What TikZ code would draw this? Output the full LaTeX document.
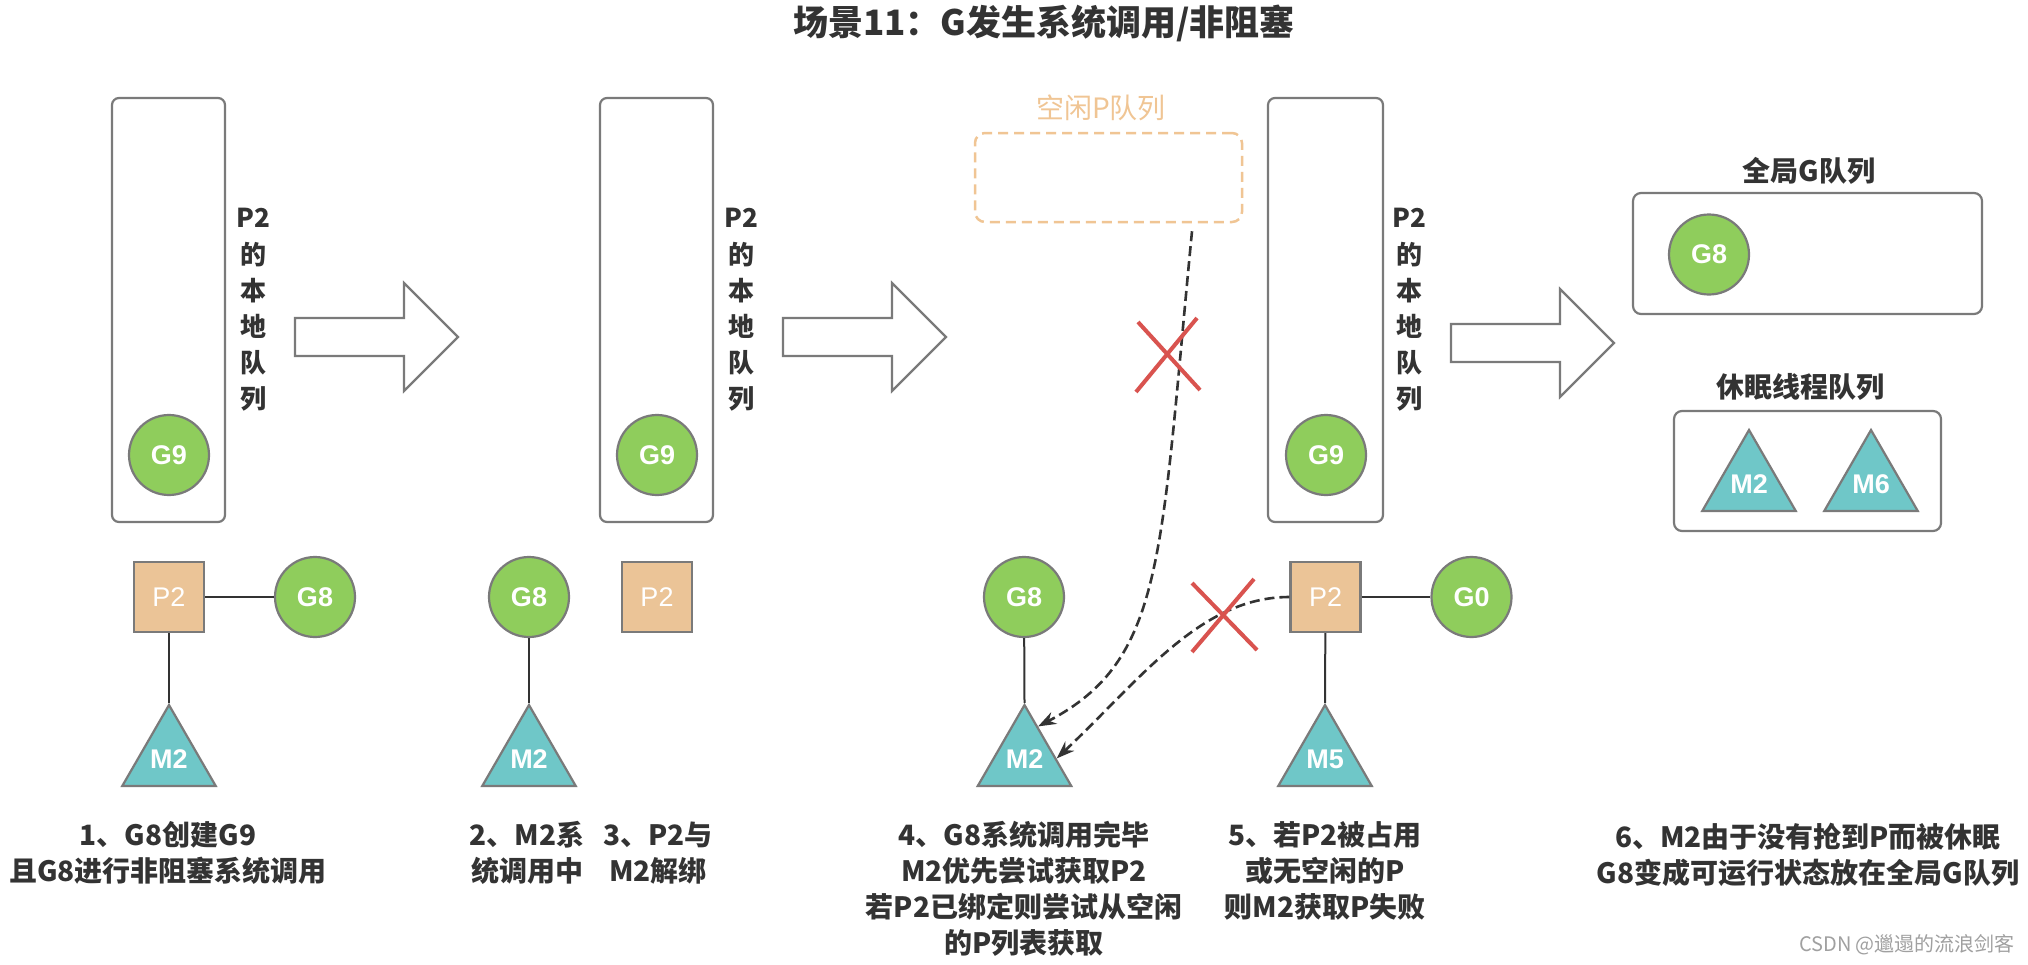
\documentclass[tikz,border=0pt]{standalone}
\usepackage{fontspec}
\setmainfont{Noto Sans CJK SC}
\newfontfamily\latinfont{Liberation Sans}
\usetikzlibrary{shapes.geometric,arrows.meta,calc}

\definecolor{gfill}{HTML}{8FCD5C}
\definecolor{pfill}{HTML}{EBC497}
\definecolor{mfill}{HTML}{6FC7C8}
\definecolor{edgegray}{HTML}{7A7A7A}
\definecolor{txt}{HTML}{333333}
\definecolor{xred}{HTML}{D9534F}
\definecolor{idle}{HTML}{F0C594}
\definecolor{wm}{HTML}{A0A0A0}

\tikzset{
  gnode/.style={circle, fill=gfill, draw=edgegray, line width=2.2pt, minimum size=80pt, inner sep=0pt, text=white, font=\latinfont\fontsize{27}{27}\selectfont\bfseries},
  pnode/.style={rectangle, fill=pfill, draw=edgegray, line width=2.2pt, minimum size=70pt, inner sep=0pt, text=white, font=\latinfont\fontsize{27}{27}\selectfont},
  mnode/.style={regular polygon, regular polygon sides=3, fill=mfill, draw=edgegray, line width=2.2pt, minimum size=108pt, inner sep=0pt, text=white, font=\latinfont\fontsize{27}{27}\selectfont\bfseries},
  localq/.style={rectangle, draw=edgegray, line width=2.2pt, rounded corners=7pt, minimum width=113pt, minimum height=424pt, inner sep=0pt},
  qbox/.style={rectangle, draw=edgegray, line width=2.2pt, rounded corners=8pt, inner sep=0pt},
  idlebox/.style={rectangle, draw=idle, line width=2.5pt, dash pattern=on 10pt off 6pt, rounded corners=10pt, minimum width=267pt, minimum height=89pt, inner sep=0pt},
  vtext/.style={align=center, text=txt, font=\fontsize{26}{36.2}\selectfont\bfseries, inner sep=0pt},
  caption/.style={align=center, text=txt, font=\fontsize{28}{36}\selectfont\bfseries, inner sep=0pt},
  qlabel/.style={text=txt, font=\fontsize{28}{28}\selectfont\bfseries, inner sep=0pt},
  conn/.style={draw=txt, line width=2pt},
  dashconn/.style={draw=txt, line width=2.6pt, dash pattern=on 10pt off 5pt, -{Stealth[length=18pt,width=13pt]}},
  xmark/.style={draw=xred, line width=4pt},
  bigarr/.style={draw=edgegray, fill=white, line width=2.2pt, line join=miter}
}

\newcommand{\bigarrow}[2]{%
  \draw[bigarr] (#1,#2-19) -- ++(109,0) -- ++(0,-35) -- ++(54,54) -- ++(-54,54) -- ++(0,-35) -- ++(-109,0) -- cycle;}

\begin{document}
\begin{tikzpicture}[x=1pt,y=-1pt]
\useasboundingbox (0,0) rectangle (2028,964);
\fill[white] (0,0) rectangle (2028,964);

% title
\node[text=txt, font=\fontsize{35}{35}\selectfont\bfseries, inner sep=0pt] (title) at (1044,23) {场景11：G发生系统调用/非阻塞};

% ---------- panel 1 ----------
\node[localq] (lq1) at (168.5,310) {};
\node[vtext] (vt1) at (253,310) {P2\\的\\本\\地\\队\\列};
\node[gnode] (g9a) at (169,455) {G9};
\node[pnode] (p2a) at (169,597) {P2};
\node[gnode] (g8a) at (315,597) {G8};
\node[mnode] (m2a) at (169,759) {M2};
\draw[conn] (p2a) -- (g8a);
\draw[conn] (p2a) -- (m2a.corner 1);
\node[caption] (cap1) at (168,853) {1、G8创建G9\\且G8进行非阻塞系统调用};
\bigarrow{295}{337}

% ---------- panel 2 ----------
\node[localq] (lq2) at (656.5,310) {};
\node[vtext] (vt2) at (741,310) {P2\\的\\本\\地\\队\\列};
\node[gnode] (g9b) at (657,455) {G9};
\node[gnode] (g8b) at (529,597) {G8};
\node[pnode] (p2b) at (657,597) {P2};
\node[mnode] (m2b) at (529,759) {M2};
\draw[conn] (g8b) -- (m2b.corner 1);
\node[caption] (cap2) at (527,853) {2、M2系\\统调用中};
\node[caption] (cap3) at (658,853) {3、P2与\\M2解绑};
\bigarrow{783}{337}

% ---------- panel 3 ----------
\node[idlebox] (idle) at (1108.5,177.5) {};
\node[text=idle, font=\fontsize{28}{28}\selectfont, inner sep=0pt] (idlelbl) at (1101,108) {空闲P队列};
\node[localq, minimum width=115pt] (lq3) at (1325.5,310) {};
\node[vtext] (vt3) at (1409,310) {P2\\的\\本\\地\\队\\列};
\node[gnode] (g9c) at (1326,455) {G9};
\node[gnode] (g8c) at (1024,597) {G8};
\node[mnode] (m2c) at (1024.5,759) {M2};
\node[pnode] (p2c) at (1325.5,597) {P2};
\node[gnode] (g0c) at (1471.5,597) {G0};
\node[mnode] (m5c) at (1325,759) {M5};
\draw[conn] (g8c) -- (m2c.corner 1);
\draw[conn] (p2c) -- (g0c);
\draw[conn] (p2c) -- (m5c.corner 1);

\coordinate (d1s) at ($(idle.south)+(83.5,8)$);
\coordinate (d1e) at ($(m2c.corner 1)!0.28!(m2c.corner 3)$);
\coordinate (d2e) at ($(m2c.corner 1)!0.66!(m2c.corner 3)$);
\draw[dashconn] (d1s) .. controls (1160,560) and (1165,660) .. (d1e);
\draw[dashconn] (p2c.west) .. controls (1200,597) and (1140,680) .. (d2e);

\draw[xmark] (1138,322) -- (1200,390);
\draw[xmark] (1197,318) -- (1136,392);
\draw[xmark] (1192,583) -- (1257,650);
\draw[xmark] (1254,579) -- (1192,652);

\node[caption] (cap4) at (1024,889) {4、G8系统调用完毕\\M2优先尝试获取P2\\若P2已绑定则尝试从空闲\\的P列表获取};
\node[caption] (cap5) at (1325,871) {5、若P2被占用\\或无空闲的P\\则M2获取P失败};
\bigarrow{1451}{343}

% ---------- panel 4 ----------
\node[qlabel] (glbl) at (1809,171) {全局G队列};
\node[qbox, minimum width=349pt, minimum height=121pt] (gq) at (1807.5,253.5) {};
\node[gnode] (g8d) at (1709,254.5) {G8};
\node[qlabel] (slbl) at (1800,387) {休眠线程队列};
\node[qbox, minimum width=267pt, minimum height=120pt] (sq) at (1807.5,471) {};
\node[mnode] (m2d) at (1749,484) {M2};
\node[mnode] (m6d) at (1871,484) {M6};
\node[caption] (cap6) at (1808,855) {6、M2由于没有抢到P而被休眠\\G8变成可运行状态放在全局G队列};

\node[text=wm, font=\fontsize{20}{20}\selectfont, inner sep=0pt] (wmark) at (1907,945) {CSDN @邋遢的流浪剑客};
\end{tikzpicture}
\end{document}
